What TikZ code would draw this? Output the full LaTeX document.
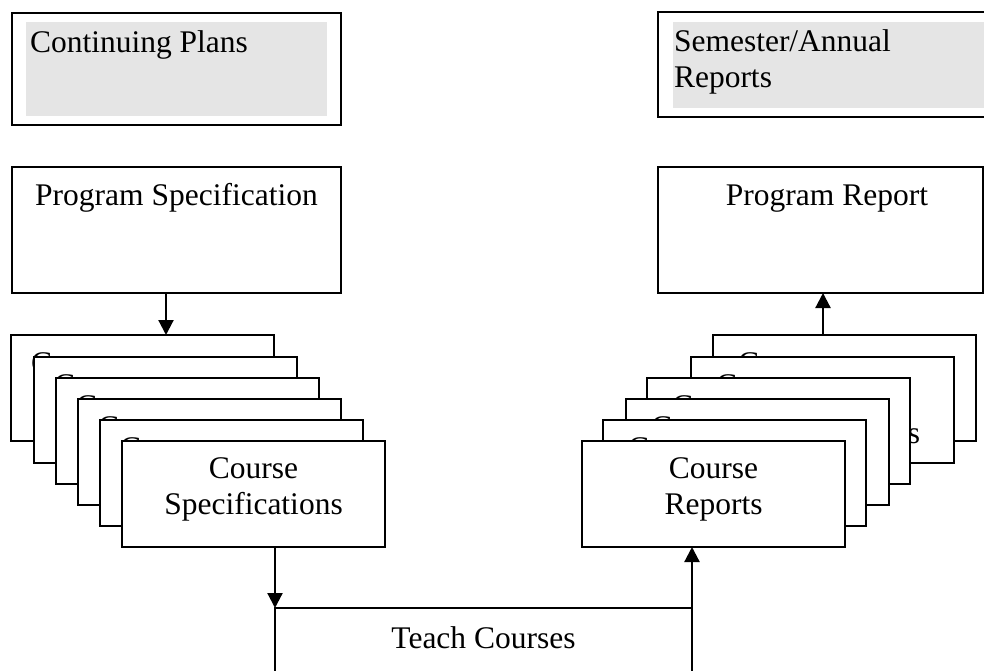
\documentclass[tikz,border=0pt]{standalone}
\usepackage{fontspec}
\setmainfont{Liberation Serif}
\usetikzlibrary{arrows.meta,calc}
\definecolor{panelgray}{RGB}{229,229,229}
\begin{document}
\begin{tikzpicture}[x=1pt,y=-1pt,
  box/.style={draw=black,line width=2.2pt,fill=white,rectangle,inner sep=0pt,outer sep=0pt,anchor=north west},
  shade/.style={fill=panelgray,draw=none,rectangle,inner sep=0pt,outer sep=0pt,anchor=north west},
  lbl/.style={font=\fontsize{31.5}{36}\selectfont,inner sep=0pt,outer sep=0pt},
  conn/.style={line width=2.2pt},
  arr/.style={conn,-{Triangle[width=15pt,length=15pt]}}]
\useasboundingbox (0,0) rectangle (984,671);
\clip (0,0) rectangle (984,671);

% top boxes
\node[box,minimum width=329pt,minimum height=112pt] (cp) at (12,13) {};
\node[shade,minimum width=301pt,minimum height=94pt] (cpfill) at (26,22) {};
\node[lbl,anchor=base west] (cpt) at (30,53) {Continuing Plans};

\node[box,minimum width=340pt,minimum height=105pt] (sr) at (658,12) {};
\node[shade,minimum width=330pt,minimum height=86pt] (srfill) at (673,22) {};
\node[lbl,anchor=base west] (srt1) at (674,52) {Semester/Annual};
\node[lbl,anchor=base west] (srt2) at (674,88) {Reports};

% program boxes
\node[box,minimum width=329pt,minimum height=126pt] (ps) at (12,167) {};
\node[lbl,anchor=base] (pst) at ($(ps.north)+(0,38)$) {Program Specification};

\node[box,minimum width=325pt,minimum height=126pt] (pr) at (658,167) {};
\node[lbl,anchor=base] (prt) at (827,205) {Program Report};

% left stack (back to front); only the left edges of their texts show
\foreach \i/\l/\t in {1/11/335,2/34/357,3/56/378,4/78/399,5/100/420}{
  \node[box,minimum width=263pt,minimum height=106pt] (ls\i) at (\l,\t) {};
  \node[lbl,anchor=base west] (ls\i a) at ($(ls\i.north west)+(20,38)$) {C};
  \node[lbl,anchor=base west] (ls\i b) at ($(ls\i.north west)+(20,74)$) {S};
}
\node[box,minimum width=263pt,minimum height=106pt] (ls6) at (122,441) {};
\node[lbl,anchor=base] (ls6a) at ($(ls6.north)+(0,37)$) {Course};
\node[lbl,anchor=base] (ls6b) at ($(ls6.north)+(0,73)$) {Specifications};

% right stack (back to front); only the tops of their texts show
\foreach \i/\l/\t in {1/713/335,2/691/357,3/647/378,4/626/399,5/603/420}{
  \node[box,minimum width=263pt,minimum height=106pt] (rs\i) at (\l,\t) {};
  \node[lbl,anchor=base west] (rs\i a) at ($(rs\i.north west)+(25,38)$) {C};
  \ifnum\i=2
    \node[lbl,anchor=base east] (rs\i b) at ($(rs\i.north west)+(229,86)$) {s};
  \fi
}
\node[box,minimum width=263pt,minimum height=106pt] (rs6) at (582,441) {};
\node[lbl,anchor=base] (rs6a) at ($(rs6.north)+(0,37)$) {Course};
\node[lbl,anchor=base] (rs6b) at ($(rs6.north)+(0,73)$) {Reports};

% teach courses
\node[box,minimum width=417pt,minimum height=100pt] (tc) at (275,608) {};
\node[lbl,anchor=base] (tct) at ($(tc.north)+(0,40)$) {Teach Courses};

% connectors
\draw[arr] ($(ps.south west)+(154,0)$) -- ($(ls1.north west)+(155,0)$);
\draw[arr] ($(rs1.north west)+(110,0)$) -- ($(pr.south west)+(165,0)$);
\draw[arr] ($(ls6.south west)+(153,0)$) -- (tc.north west);
\draw[arr] (tc.north east) -- (tc.north east |- rs6.south);
\end{tikzpicture}
\end{document}
